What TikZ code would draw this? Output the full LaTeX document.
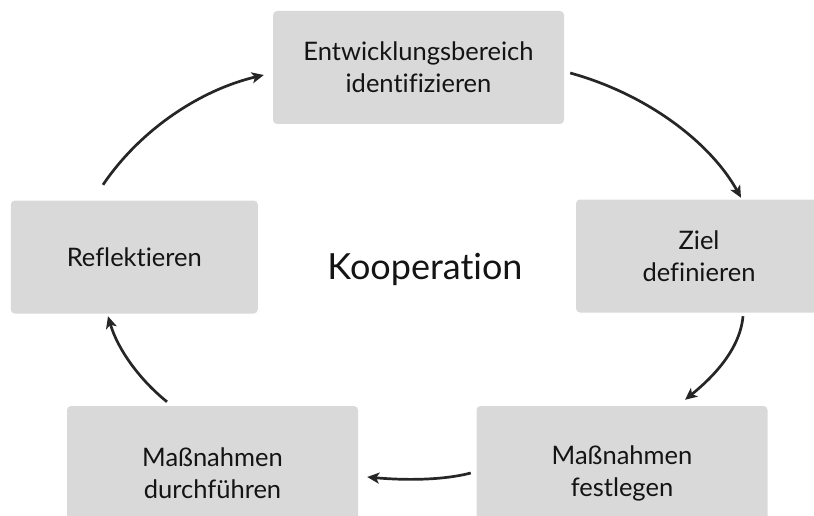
\documentclass[tikz,border=0pt]{standalone}
\usepackage{fontspec}
\setmainfont{Lato}[Ligatures=NoCommon]
\usetikzlibrary{arrows.meta}
\definecolor{boxgray}{HTML}{D9D9D9}
\definecolor{ink}{HTML}{262626}
\definecolor{txt}{HTML}{141414}
\tikzset{
  stepbox/.style={fill=boxgray, rounded corners=4pt, inner sep=0pt, align=center,
    text=txt, font=\fontsize{25.5}{32}\selectfont},
  arr/.style={draw=ink, line width=2.7pt, -{Stealth[length=12pt,width=11pt,inset=3pt]}}
}
\begin{document}
\begin{tikzpicture}[x=1pt,y=1pt]
\useasboundingbox (0,0) rectangle (814,-516);
\clip (0,0) rectangle (814,-516);
\node[stepbox, minimum width=291pt, minimum height=113pt] (top) at (418.5,-67.5) {Entwicklungsbereich\\identifizieren};
\node[stepbox, minimum width=246pt, minimum height=113pt] (ziel) at (699,-256) {Ziel\\definieren};
\node[stepbox, minimum width=291pt, minimum height=134pt] (fest) at (622,-473) {Maßnahmen\\festlegen};
\node[stepbox, minimum width=291pt, minimum height=134pt] (durch) at (212.5,-473) {Maßnahmen\\durchführen};
\node[stepbox, minimum width=247pt, minimum height=113pt] (refl) at (134.3,-257) {Reflektieren};
\node[text=txt, font=\fontsize{36}{42}\selectfont] (koop) at (425,-269) {Kooperation};
\draw[arr] ([shift={(6,-5.5)}]top.east) .. controls (650,-95) and (712,-145) .. ([shift={(42,1.5)}]ziel.north);
\draw[arr] ([shift={(44,-3.5)}]ziel.south) .. controls (740,-350) and (712,-378) .. ([shift={(63,6)}]fest.north);
\draw[arr] ([shift={(-5.5,0)}]fest.west) .. controls (440,-481) and (400,-480) .. ([shift={(9,-4)}]durch.east);
\draw[arr] ([shift={(-45.5,4)}]durch.north) .. controls (140,-380) and (118,-350) .. ([shift={(-26.3,-2.5)}]refl.south);
\draw[arr] ([shift={(-31.3,15.5)}]refl.north) .. controls (140,-130) and (200,-90) .. ([shift={(-9,-7.5)}]top.west);
\end{tikzpicture}
\end{document}
